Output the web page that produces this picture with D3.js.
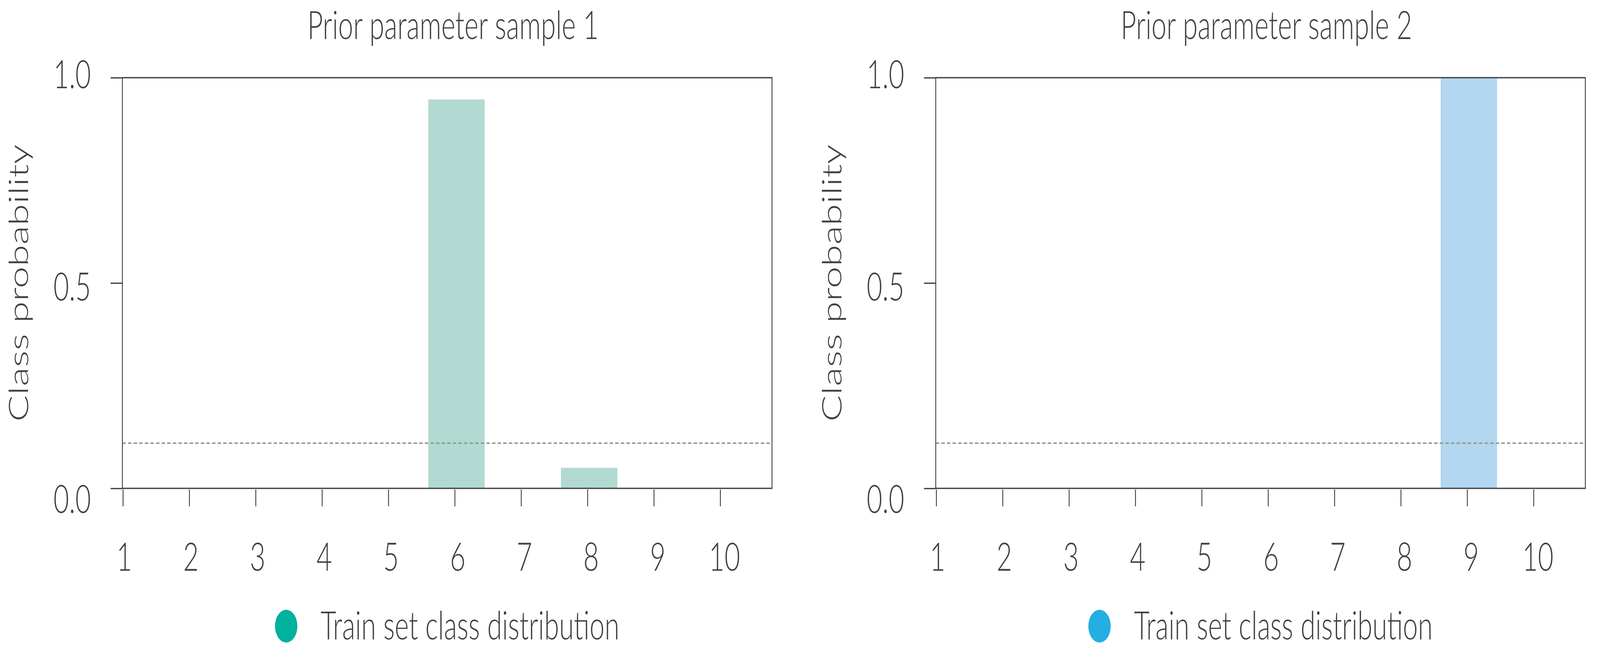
<!DOCTYPE html>
<html>
<head>
<meta charset="utf-8">
<script src="https://cdn.jsdelivr.net/npm/d3@7"></script>
<style>
  html, body { margin: 0; padding: 0; background: #fff; overflow: hidden; }
  svg { display: block; }
  text { font-family: Lato, 'Open Sans', sans-serif; font-weight: 300; fill: #404040; }
</style>
</head>
<body>
<div id="chart"></div>
<script>
// data
const classes = [1, 2, 3, 4, 5, 6, 7, 8, 9, 10]
const titles = ['Prior parameter sample 1', 'Prior parameter sample 2']
const sample1 = [0, 0, 0, 0, 0, 0.947, 0, 0.05, 0, 0]
const sample2 = [0, 0, 0, 0, 0, 0, 0, 0, 1.0, 0]
const trainLevel = [0.11, 0.11]
const yTicks = [0, 0.5, 1.0]
const barColors = ['#b2dad2', '#b3d7f0']
const dotColors = ['#00b19d', '#24aee2']
const legendLabel = 'Train set class distribution'

// layout is worked out on the 6000 x 1683 design and stretched to the window
const W = 6000
const H = 1683
const panelLeft = [459, 3509]
const plotTop = 199
const width = 2436
const height = 1052
const fontSize = 101

const svg = d3
  .select('#chart')
  .append('svg')
  .attr('width', window.innerWidth || W)
  .attr('height', window.innerHeight || H)
  .attr('viewBox', `0 0 ${W} ${H}`)
  .attr('preserveAspectRatio', 'none')

const x = d3.scaleLinear().domain([0.992, 10.78]).range([0, width])
const y = d3.scaleLinear().domain([0, 1]).range([height, 0])
// the tick labels sit on a slightly wider spread than the ticks themselves
const xLab = d3.scaleLinear().domain([1, 10]).range([7, 2258])
const yLab = d3.scaleLinear().domain([0, 1]).range([1115, 27])

const series = [sample1, sample2]

series.forEach(function(values, i) {
  const g = svg
    .append('g')
    .attr('transform', `translate(${panelLeft[i]},${plotTop})`)

  const data = classes.map((c, j) => ({ cls: c, p: values[j] }))

  // bars
  g.selectAll('.bar')
    .data(data.filter(d => d.p > 0))
    .enter()
    .append('rect')
    .attr('class', 'bar')
    .attr('x', d => x(d.cls - 0.4))
    .attr('width', d => x(d.cls + 0.45) - x(d.cls - 0.4))
    .attr('y', d => y(d.p))
    .attr('height', d => y(0) - y(d.p))
    .attr('fill', barColors[i])

  // train set distribution reference line
  g.append('line')
    .attr('x1', 0)
    .attr('x2', width)
    .attr('y1', y(trainLevel[i]))
    .attr('y2', y(trainLevel[i]))
    .attr('stroke', '#999')
    .attr('stroke-width', 4)
    .attr('stroke-dasharray', '13,8')

  // frame
  g.append('rect')
    .attr('width', width)
    .attr('height', height)
    .attr('fill', 'none')
    .attr('stroke', '#404040')
    .attr('stroke-width', 3.3)

  // y ticks
  const yAxis = g.append('g').call(
    d3.axisLeft(y).tickValues(yTicks).tickSize(44).tickFormat('')
  )
  yAxis.select('.domain').remove()
  yAxis.selectAll('line').attr('stroke', '#404040').attr('stroke-width', 3.3)

  g.selectAll('.ylab')
    .data(yTicks)
    .enter()
    .append('text')
    .attr('class', 'ylab')
    .attr('x', -118)
    .attr('y', d => yLab(d))
    .attr('text-anchor', 'end')
    .attr('font-size', fontSize)
    .text(d3.format('.1f'))

  // x ticks, offset a little below the frame
  const xAxis = g
    .append('g')
    .attr('transform', `translate(0,${height})`)
    .call(d3.axisBottom(x).tickValues(classes).tickSize(0).tickFormat(''))
  xAxis.select('.domain').remove()
  xAxis
    .selectAll('line')
    .attr('y1', 3)
    .attr('y2', 46)
    .attr('stroke', '#404040')
    .attr('stroke-width', 3.3)

  g.selectAll('.xlab')
    .data(classes)
    .enter()
    .append('text')
    .attr('class', 'xlab')
    .attr('x', d => xLab(d))
    .attr('y', height + 211)
    .attr('text-anchor', 'middle')
    .attr('font-size', fontSize)
    .text(d => d)

  // title
  g.append('text')
    .attr('x', width / 2 + 22)
    .attr('y', 100 - plotTop)
    .attr('text-anchor', 'middle')
    .attr('font-size', fontSize)
    .text(titles[i])

  // y axis title
  g.append('text')
    .attr('transform', `translate(-354,${height / 2}) rotate(-90)`)
    .attr('text-anchor', 'middle')
    .attr('font-size', fontSize)
    .text('Class probability')

  // legend, centred under the panel
  const legend = g.append('g')
  legend
    .append('circle')
    .attr('cx', 0)
    .attr('cy', 0)
    .attr('r', 42)
    .attr('fill', dotColors[i])
  legend
    .append('text')
    .attr('x', 129)
    .attr('y', 34)
    .attr('font-size', fontSize)
    .text(legendLabel)
  const box = legend.node().getBBox()
  legend.attr(
    'transform',
    `translate(${width / 2 - (box.x + box.width / 2)},${1604 - plotTop})`
  )
})
</script>
</body>
</html>
